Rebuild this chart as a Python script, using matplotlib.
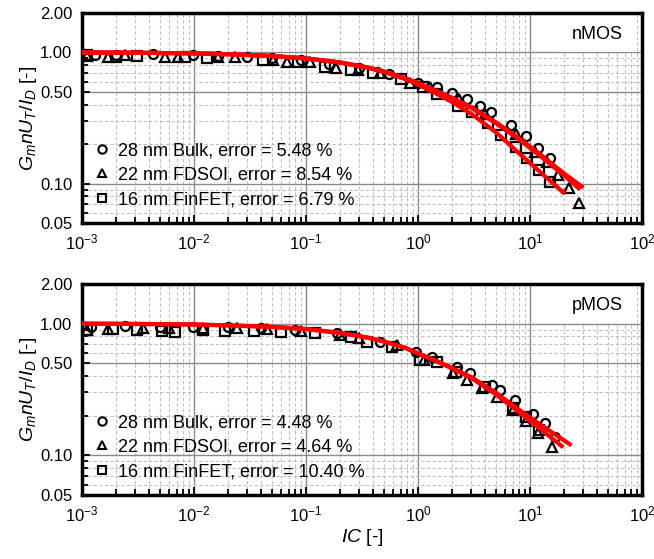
"""Normalised transconductance efficiency vs inversion coefficient,
nMOS (top) and pMOS (bottom), measured points and fitted model."""

import matplotlib
matplotlib.use('Agg')
from matplotlib import pyplot as plt
from matplotlib.lines import Line2D
from matplotlib.patches import Rectangle
from matplotlib.ticker import FixedLocator, FixedFormatter, NullFormatter

plt.rcParams['font.family'] = ['Liberation Sans', 'DejaVu Sans']
plt.rcParams['mathtext.fontset'] = 'custom'
plt.rcParams['mathtext.rm'] = 'Liberation Sans'
plt.rcParams['mathtext.it'] = 'Liberation Sans:italic'

techs = ['28 nm Bulk', '22 nm FDSOI', '16 nm FinFET']
markers = ['o', '^', 's']

# ---- nMOS measured points
n_bulk_ic = [0.0013, 0.002, 0.0043, 0.0098, 0.0164, 0.0295, 0.05, 0.09, 0.16, 0.3,
             0.55, 1.0, 1.48, 2.0, 2.74, 3.58, 4.49, 6.76, 9.2, 11.8, 15.1]
n_bulk_g = [0.96, 0.95, 0.97, 0.95, 0.94, 0.92, 0.90, 0.87, 0.82, 0.76,
            0.68, 0.58, 0.545, 0.49, 0.44, 0.39, 0.35, 0.28, 0.23, 0.186, 0.156]
n_fdsoi_ic = [0.0011, 0.0017, 0.0024, 0.0055, 0.0072, 0.0164, 0.023, 0.051, 0.068, 0.109,
              0.185, 0.29, 0.46, 0.85, 1.28, 2.3, 4.0, 7.5, 11.0, 14.2, 17.8, 22.3, 27.4]
n_fdsoi_g = [0.94, 0.93, 0.95, 0.92, 0.93, 0.92, 0.92, 0.88, 0.85, 0.84,
             0.76, 0.73, 0.70, 0.585, 0.55, 0.44, 0.34, 0.24, 0.175, 0.146, 0.116, 0.092, 0.071]
n_finfet_ic = [0.0011, 0.002, 0.0031, 0.0083, 0.013, 0.0415, 0.085, 0.148, 0.25, 0.4,
               0.7, 1.1, 1.48, 2.27, 3.03, 4.22, 5.5, 7.5, 9.4, 12.0, 15.1]
n_finfet_g = [0.95, 0.93, 0.94, 0.92, 0.91, 0.88, 0.85, 0.78, 0.74, 0.70,
              0.63, 0.55, 0.48, 0.39, 0.35, 0.29, 0.234, 0.19, 0.156, 0.127, 0.102]

# ---- nMOS fitted curves
n_fit_ic = [0.001, 0.003, 0.01, 0.02, 0.05, 0.1, 0.2, 0.35, 0.5, 0.77, 1.0, 1.42, 2.0,
            3.0, 5.0, 8.0, 12.0, 20.0]
n_fit_bulk = [1.0, 0.995, 0.985, 0.97, 0.94, 0.90, 0.84, 0.77, 0.715, 0.635, 0.585, 0.515, 0.452,
              0.382, 0.292, 0.222, 0.17, 0.12]
n_fit_fdsoi = [1.0, 0.995, 0.985, 0.97, 0.94, 0.90, 0.84, 0.77, 0.715, 0.635, 0.583, 0.512, 0.448,
               0.377, 0.287, 0.217, 0.165, 0.116]
n_fit_finfet = [1.0, 0.995, 0.985, 0.97, 0.94, 0.90, 0.84, 0.77, 0.71, 0.625, 0.57, 0.49, 0.42,
                0.34, 0.245, 0.17, 0.125, 0.085]
n_fit_end_ic = [30.0, 28.0, 19.2]
n_fit_end_g = [0.093, 0.090, 0.090]
n_errors = [5.48, 8.54, 6.79]

# ---- pMOS measured points
p_bulk_ic = [0.0012, 0.0024, 0.005, 0.0098, 0.02, 0.04, 0.08, 0.19, 0.46, 0.96,
             1.32, 2.21, 2.91, 4.55, 5.4, 7.35, 10.6, 13.6, 16.7]
p_bulk_g = [0.95, 0.96, 0.95, 0.95, 0.94, 0.93, 0.89, 0.85, 0.73, 0.61,
            0.555, 0.466, 0.42, 0.345, 0.313, 0.262, 0.205, 0.175, 0.138]
p_fdsoi_ic = [0.0011, 0.0017, 0.0035, 0.006, 0.012, 0.024, 0.045, 0.09, 0.2, 0.3,
              0.65, 1.13, 2.06, 2.72, 3.7, 5.1, 7.05, 9.2, 11.9, 15.6]
p_fdsoi_g = [0.90, 0.91, 0.92, 0.92, 0.93, 0.93, 0.91, 0.88, 0.82, 0.78,
             0.69, 0.53, 0.42, 0.372, 0.327, 0.275, 0.22, 0.183, 0.148, 0.116]
p_finfet_ic = [0.0011, 0.0019, 0.0031, 0.0052, 0.0068, 0.012, 0.019, 0.034, 0.06, 0.12,
               0.25, 0.35, 0.58, 1.04, 1.47, 2.2, 3.96, 7.05, 9.3, 12.0]
p_finfet_g = [0.90, 0.91, 0.90, 0.88, 0.87, 0.90, 0.88, 0.88, 0.86, 0.85,
              0.79, 0.73, 0.67, 0.53, 0.51, 0.43, 0.33, 0.228, 0.196, 0.155]

# ---- pMOS fitted curves
p_fit_ic = [0.001, 0.003, 0.01, 0.02, 0.05, 0.1, 0.2, 0.35, 0.5, 0.77, 1.0, 1.42, 2.0,
            3.0, 5.0, 8.0, 12.0]
p_fit_a = [1.0, 0.995, 0.985, 0.97, 0.945, 0.91, 0.85, 0.785, 0.73, 0.655, 0.595, 0.527, 0.462,
           0.392, 0.297, 0.222, 0.174]
p_fit_b = [1.0, 0.995, 0.985, 0.97, 0.945, 0.91, 0.85, 0.785, 0.73, 0.655, 0.593, 0.524, 0.458,
           0.386, 0.289, 0.212, 0.162]
p_fit_end_ic = [23.5, 19.8]
p_fit_end_g = [0.119, 0.115]
p_errors = [4.48, 4.64, 10.40]

y_major = [0.05, 0.1, 0.5, 1.0, 2.0]
y_minor = [0.06, 0.07, 0.08, 0.09, 0.2, 0.3, 0.4, 0.6, 0.7, 0.8, 0.9]
x_minor = [m * 10.0 ** e for e in range(-3, 2) for m in range(2, 10)]


def style_axes(ax):
    ax.set_xscale('log')
    ax.set_yscale('log')
    ax.set_xlim(1e-3, 1e2)
    ax.set_ylim(0.05, 2.0)
    ax.yaxis.set_major_locator(FixedLocator(y_major))
    ax.yaxis.set_major_formatter(FixedFormatter(['%.2f' % v for v in y_major]))
    ax.yaxis.set_minor_locator(FixedLocator(y_minor))
    ax.yaxis.set_minor_formatter(NullFormatter())
    ax.xaxis.set_minor_locator(FixedLocator(x_minor))
    ax.xaxis.set_minor_formatter(NullFormatter())
    ax.tick_params(which='both', direction='in', top=False, right=False,
                   labelsize=12, width=1.3)
    ax.tick_params(which='major', length=6, pad=7)
    ax.tick_params(which='minor', length=4)
    ax.grid(which='major', color='#8a8a8a', lw=1.0, ls='-')
    ax.grid(which='minor', color='#c0c0c0', lw=0.8, ls=(0, (3, 2)))
    ax.set_axisbelow(True)
    for s in ax.spines.values():
        s.set_linewidth(2.5)
    ax.set_ylabel('$G_m nU_T/I_D$ [-]', fontsize=14, labelpad=1)


def draw_panel(ax, points, fits, tag, errors):
    style_axes(ax)
    for (ic, g), m in zip(points, markers):
        ax.plot(ic, g, ls='none', marker=m, ms=6.5, mfc='none', mec='black',
                mew=1.6, zorder=3)
    for ic, g in fits:
        ax.plot(ic, g, color='#ff0000', lw=3.0, solid_capstyle='butt',
                solid_joinstyle='round', zorder=4)
    # white label box in the upper right corner
    ax.add_patch(Rectangle((0.852, 0.814), 0.137, 0.19, transform=ax.transAxes,
                           facecolor='white', edgecolor='none', zorder=1.5))
    ax.text(0.92, 0.9, tag, transform=ax.transAxes, ha='center', va='center',
            fontsize=13, zorder=2)
    handles = [Line2D([], [], ls='none', marker=m, ms=6, mfc='none', mec='black', mew=1.5)
               for m in markers]
    labels = ['%s, error = %.2f %%' % (t, e) for t, e in zip(techs, errors)]
    ax.legend(handles, labels, loc='lower left', frameon=False, fontsize=13,
              handlelength=0.8, handletextpad=0.5, labelspacing=0.42,
              borderaxespad=0.3, bbox_to_anchor=(0.0, 0.01))


fig = plt.figure(figsize=(6.54, 5.59), dpi=100)
ax1 = fig.add_axes([0.1254, 0.601, 0.8563, 0.3757])
ax2 = fig.add_axes([0.1254, 0.1145, 0.8563, 0.3775])

n_points = [(n_bulk_ic, n_bulk_g), (n_fdsoi_ic, n_fdsoi_g), (n_finfet_ic, n_finfet_g)]
n_fits = [(n_fit_ic + [n_fit_end_ic[i]], f + [n_fit_end_g[i]])
          for i, f in enumerate([n_fit_bulk, n_fit_fdsoi, n_fit_finfet])]
draw_panel(ax1, n_points, n_fits, 'nMOS', n_errors)

p_points = [(p_bulk_ic, p_bulk_g), (p_fdsoi_ic, p_fdsoi_g), (p_finfet_ic, p_finfet_g)]
p_fits = [(p_fit_ic + [p_fit_end_ic[i]], f + [p_fit_end_g[i]])
          for i, f in enumerate([p_fit_a, p_fit_b])]
draw_panel(ax2, p_points, p_fits, 'pMOS', p_errors)
ax2.set_xlabel('$IC$ [-]', fontsize=14, labelpad=2)

fig.savefig('out.png', dpi=100)
